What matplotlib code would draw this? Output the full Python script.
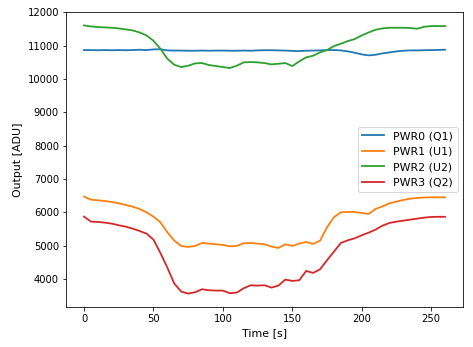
import matplotlib
matplotlib.use("Agg")
import matplotlib.pyplot as plt
import numpy as np

# sample times [s], one reading every 5 s
time_s = np.arange(0, 261, 5)

pwr0 = [10870, 10870, 10865, 10870, 10865, 10870, 10865, 10870, 10880, 10870,
        10890, 10895, 10860, 10855, 10855, 10850, 10850, 10855, 10850, 10855,
        10855, 10850, 10850, 10855, 10850, 10860, 10865, 10865, 10860, 10855,
        10845, 10840, 10850, 10855, 10860, 10870, 10870, 10860, 10830, 10790,
        10740, 10710, 10730, 10770, 10800, 10830, 10850, 10860, 10860, 10865,
        10870, 10875, 10880]

pwr1 = [6470, 6380, 6360, 6340, 6310, 6270, 6220, 6170, 6100, 6000,
        5870, 5700, 5400, 5150, 4990, 4960, 4990, 5080, 5060, 5040,
        5020, 4980, 4990, 5070, 5080, 5060, 5040, 4970, 4930, 5040,
        4990, 5060, 5110, 5050, 5150, 5550, 5850, 6000, 6010, 6010,
        5980, 5950, 6100, 6180, 6270, 6320, 6370, 6410, 6430, 6445,
        6450, 6450, 6450]

pwr2 = [11610, 11580, 11560, 11550, 11540, 11520, 11490, 11460, 11400, 11310,
        11150, 10910, 10610, 10430, 10360, 10400, 10470, 10480, 10420, 10390,
        10360, 10330, 10400, 10500, 10510, 10500, 10480, 10440, 10460, 10480,
        10390, 10530, 10650, 10700, 10800, 10870, 10990, 11060, 11140, 11200,
        11310, 11400, 11480, 11520, 11540, 11540, 11540, 11530, 11510, 11570,
        11590, 11590, 11590]

pwr3 = [5870, 5720, 5710, 5690, 5660, 5610, 5570, 5510, 5440, 5360,
        5180, 4780, 4340, 3860, 3620, 3560, 3600, 3690, 3660, 3650,
        3650, 3570, 3590, 3720, 3810, 3800, 3810, 3740, 3800, 3980,
        3940, 3960, 4240, 4180, 4290, 4560, 4820, 5080, 5160, 5220,
        5310, 5390, 5480, 5600, 5680, 5720, 5750, 5780, 5810, 5840,
        5860, 5865, 5865]

labels = ["PWR0 (Q1)", "PWR1 (U1)", "PWR2 (U2)", "PWR3 (Q2)"]

plt.rcParams['font.size'] = 11
plt.rcParams['xtick.labelsize'] = 10
plt.rcParams['ytick.labelsize'] = 10
fig = plt.figure(figsize=(473 / 72, 347 / 72), dpi=72)
ax = fig.add_axes([0.1395, 0.1153, 0.8395, 0.8501])

for vals, lab in zip([pwr0, pwr1, pwr2, pwr3], labels):
    ax.plot(time_s, vals, lw=1.8, label=lab)

ax.set_xlabel("Time [s]")
ax.set_ylabel("Output [ADU]")
ax.set_yticks(np.arange(4000, 12001, 1000))
ax.legend(loc="center right")

plt.savefig("out.png", dpi=72)
